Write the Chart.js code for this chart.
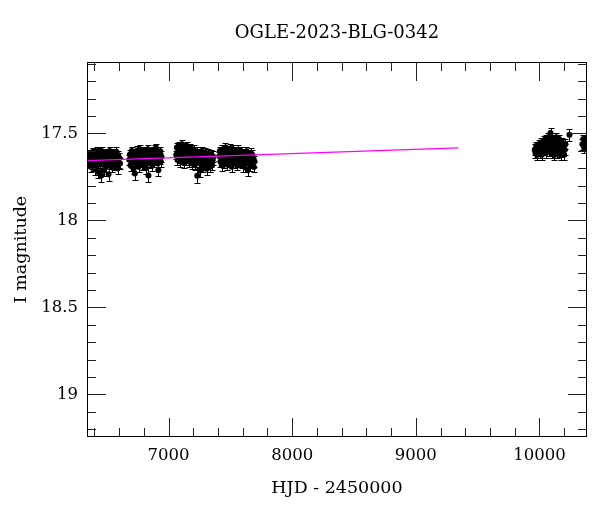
<!DOCTYPE html>
<html>
<head>
<meta charset="utf-8">
<script src="https://cdn.jsdelivr.net/npm/chart.js@4.4.1/dist/chart.umd.min.js"></script>
<style>
  html, body { margin: 0; padding: 0; background: #fff; }
</style>
</head>
<body>
<canvas id="lightCurve" width="600" height="512"></canvas>
<script>
const chartTitle = "OGLE-2023-BLG-0342";
const xLabel = "HJD - 2450000";
const yLabel = "I magnitude";
const xMajorTicks = [7000, 8000, 9000, 10000];
const yMajorTicks = [17.5, 18, 18.5, 19];

// OGLE photometry: HJD - 2450000, I mag, error
const hjd = [
  // 2013
  6352, 6358, 6363, 6368, 6372, 6377, 6381, 6386, 6390, 6395, 6399, 6404, 6408, 6412,
  6417, 6421, 6425, 6430, 6434, 6438, 6443, 6447, 6451, 6456, 6460, 6464, 6469, 6473,
  6477, 6482, 6486, 6491, 6495, 6500, 6504, 6509, 6514, 6518, 6523, 6528, 6532, 6537,
  6542, 6547, 6552, 6557, 6562, 6567, 6572, 6577, 6582, 6587, 6592, 6597, 6602, 6607,
  // 2014
  6682, 6687, 6692, 6697, 6702, 6707, 6712, 6717, 6722, 6727, 6732, 6737, 6742, 6747,
  6752, 6757, 6762, 6767, 6772, 6777, 6782, 6787, 6792, 6797, 6802, 6807, 6812, 6817,
  6822, 6827, 6832, 6837, 6842, 6847, 6852, 6857, 6862, 6867, 6872, 6877, 6882, 6887,
  6892, 6897, 6902, 6907, 6912, 6917, 6922, 6927, 6932, 6937, 6942,
  // 2015
  7062, 7067, 7072, 7077, 7082, 7087, 7092, 7097, 7102, 7107, 7112, 7117, 7122, 7127,
  7132, 7137, 7142, 7147, 7152, 7157, 7162, 7167, 7172, 7177, 7182, 7187, 7192, 7197,
  7202, 7207, 7212, 7217, 7222, 7227, 7232, 7237, 7242, 7247, 7252, 7257, 7262, 7267,
  7272, 7277, 7282, 7287, 7292, 7297, 7302, 7307, 7312, 7317, 7322, 7327, 7332, 7337,
  7342, 7347, 7352, 7357, 7362,
  // 2016
  7410, 7415, 7420, 7425, 7430, 7435, 7440, 7445, 7450, 7455, 7460, 7465, 7470, 7475,
  7480, 7485, 7490, 7495, 7500, 7505, 7510, 7515, 7520, 7525, 7530, 7535, 7540, 7545,
  7550, 7555, 7560, 7565, 7570, 7575, 7580, 7585, 7590, 7595, 7600, 7605, 7610, 7615,
  7620, 7625, 7630, 7635, 7640, 7645, 7650, 7655, 7660, 7665, 7670, 7675, 7680, 7685,
  7690, 7695,
  // 2023
  9962, 9968, 9974, 9980, 9986, 9992, 9998, 10004, 10010, 10015, 10020, 10025, 10030, 10035,
  10040, 10045, 10050, 10055, 10060, 10065, 10070, 10075, 10080, 10085, 10090, 10095, 10100, 10105,
  10110, 10115, 10120, 10125, 10130, 10135, 10140, 10145, 10150, 10155, 10160, 10165, 10170, 10175,
  10180, 10185, 10190, 10195, 10200, 10205, 10210, 10243,
  // 2024
  10348, 10355, 10362, 10368, 10374, 10380
];

const mag = [
  17.645, 17.672, 17.618, 17.663, 17.694, 17.631, 17.652, 17.607, 17.684, 17.641, 17.668, 17.705, 17.624, 17.653,
  17.603, 17.671, 17.636, 17.722, 17.659, 17.612, 17.646, 17.681, 17.627, 17.742, 17.655, 17.604, 17.674, 17.633,
  17.712, 17.662, 17.619, 17.648, 17.692, 17.614, 17.663, 17.637, 17.735, 17.651, 17.602, 17.676, 17.643, 17.621,
  17.694, 17.658, 17.613, 17.647, 17.683, 17.628, 17.664, 17.606, 17.652, 17.702, 17.624, 17.667, 17.641, 17.673,

  17.652, 17.621, 17.684, 17.643, 17.602, 17.667, 17.631, 17.703, 17.614, 17.731, 17.655, 17.623, 17.672, 17.598,
  17.646, 17.692, 17.618, 17.664, 17.593, 17.641, 17.682, 17.609, 17.654, 17.632, 17.676, 17.603, 17.645, 17.701,
  17.622, 17.663, 17.591, 17.742, 17.634, 17.671, 17.612, 17.653, 17.624, 17.684, 17.601, 17.643, 17.666, 17.594,
  17.632, 17.585, 17.654, 17.613, 17.673, 17.712, 17.621, 17.645, 17.603, 17.662, 17.634,

  17.624, 17.582, 17.653, 17.601, 17.572, 17.633, 17.662, 17.594, 17.612, 17.563, 17.641, 17.604, 17.671, 17.583,
  17.622, 17.654, 17.592, 17.631, 17.574, 17.613, 17.662, 17.603, 17.642, 17.584, 17.621, 17.673, 17.612, 17.651,
  17.593, 17.634, 17.682, 17.622, 17.661, 17.604, 17.743, 17.642, 17.613, 17.671, 17.632, 17.714, 17.654, 17.602,
  17.664, 17.623, 17.692, 17.641, 17.612, 17.663, 17.634, 17.703, 17.652, 17.614, 17.672, 17.631, 17.694, 17.643,
  17.662, 17.623, 17.681, 17.652, 17.634,

  17.632, 17.601, 17.663, 17.622, 17.684, 17.593, 17.641, 17.612, 17.672, 17.634, 17.582, 17.653, 17.621, 17.681,
  17.604, 17.642, 17.613, 17.664, 17.586, 17.631, 17.692, 17.614, 17.652, 17.593, 17.633, 17.671, 17.602, 17.644,
  17.623, 17.682, 17.594, 17.651, 17.612, 17.663, 17.632, 17.604, 17.672, 17.621, 17.643, 17.691, 17.614, 17.652,
  17.631, 17.674, 17.603, 17.642, 17.712, 17.624, 17.661, 17.633, 17.684, 17.612, 17.653, 17.622, 17.672, 17.641,
  17.693, 17.662,

  17.594, 17.612, 17.573, 17.624, 17.582, 17.603, 17.562, 17.614, 17.553, 17.592, 17.623, 17.564, 17.583, 17.542,
  17.601, 17.572, 17.533, 17.613, 17.552, 17.584, 17.523, 17.602, 17.544, 17.573, 17.498, 17.553, 17.614, 17.532,
  17.582, 17.563, 17.624, 17.541, 17.593, 17.522, 17.574, 17.612, 17.551, 17.583, 17.532, 17.604, 17.562, 17.626,
  17.584, 17.553, 17.603, 17.572, 17.623, 17.594, 17.562, 17.508,

  17.563, 17.532, 17.584, 17.551, 17.574, 17.543
];

const magErr = [
  .025, .030, .025, .030, .030, .025, .030, .025, .030, .025, .030, .035, .025, .030,
  .025, .030, .025, .035, .030, .025, .025, .030, .025, .040, .030, .025, .030, .025,
  .035, .030, .025, .025, .030, .025, .030, .025, .040, .030, .025, .030, .025, .025,
  .030, .030, .025, .025, .030, .025, .030, .025, .030, .030, .025, .030, .030, .030,

  .030, .025, .030, .025, .025, .030, .025, .030, .025, .035, .030, .025, .030, .025,
  .025, .030, .025, .030, .025, .025, .030, .025, .030, .025, .030, .025, .025, .030,
  .025, .030, .025, .040, .025, .030, .025, .030, .025, .030, .025, .025, .030, .025,
  .025, .025, .030, .025, .030, .035, .025, .030, .025, .030, .030,

  .025, .025, .030, .025, .025, .025, .030, .025, .025, .025, .030, .025, .030, .025,
  .025, .030, .025, .025, .025, .025, .030, .025, .025, .025, .025, .030, .025, .030,
  .025, .025, .030, .025, .030, .025, .040, .030, .025, .030, .025, .035, .030, .025,
  .030, .025, .030, .025, .025, .030, .025, .035, .030, .025, .030, .025, .030, .030,
  .030, .025, .030, .030, .030,

  .025, .025, .030, .025, .030, .025, .025, .025, .030, .025, .025, .030, .025, .030,
  .025, .025, .025, .030, .025, .025, .030, .025, .030, .025, .025, .030, .025, .025,
  .025, .030, .025, .030, .025, .030, .025, .025, .030, .025, .025, .030, .025, .030,
  .025, .030, .025, .025, .035, .025, .030, .025, .030, .025, .030, .025, .030, .025,
  .030, .030,

  .030, .030, .025, .030, .025, .025, .025, .030, .025, .025, .030, .025, .025, .025,
  .025, .025, .025, .030, .025, .025, .025, .030, .025, .025, .030, .025, .030, .025,
  .025, .025, .030, .025, .025, .025, .025, .030, .025, .025, .025, .030, .025, .030,
  .025, .025, .030, .025, .030, .030, .030, .035,

  .030, .025, .030, .025, .030, .025
];

// baseline model drawn in magenta
const modelHjd = [6340, 9345];
const modelMag = [17.657, 17.583];

const serif = '"DejaVu Serif", "Liberation Serif", serif';

function isMajor(v, majors) {
  return majors.some(m => Math.abs(m - v) < 1e-6);
}

// vertical error bars with caps, under the points
const errorBars = {
  id: 'errorBars',
  beforeDatasetsDraw(chart) {
    const { ctx, chartArea: a, scales: { x, y } } = chart;
    ctx.save();
    ctx.beginPath();
    ctx.rect(a.left, a.top, a.right - a.left, a.bottom - a.top);
    ctx.clip();
    ctx.strokeStyle = '#000';
    ctx.lineWidth = 1;
    ctx.beginPath();
    hjd.forEach((t, i) => {
      const px = Math.round(x.getPixelForValue(t)) + 0.5;
      const y1 = Math.round(y.getPixelForValue(mag[i] - magErr[i])) + 0.5;
      const y2 = Math.round(y.getPixelForValue(mag[i] + magErr[i])) + 0.5;
      ctx.moveTo(px, y1); ctx.lineTo(px, y2);
      ctx.moveTo(px - 3, y1); ctx.lineTo(px + 3, y1);
      ctx.moveTo(px - 3, y2); ctx.lineTo(px + 3, y2);
    });
    ctx.stroke();
    ctx.restore();
  }
};

// box frame with inward ticks on all four sides, plus the title
const frameTicks = {
  id: 'frameTicks',
  afterDraw(chart) {
    const { ctx, chartArea: a, scales: { x, y } } = chart;
    ctx.save();
    ctx.strokeStyle = '#222';
    ctx.lineWidth = 1;
    ctx.beginPath();
    x.ticks.forEach(t => {
      const px = Math.round(x.getPixelForValue(t.value)) + 0.5;
      const len = isMajor(t.value, xMajorTicks) ? 19 : 9;
      ctx.moveTo(px, a.bottom); ctx.lineTo(px, a.bottom - len);
      ctx.moveTo(px, a.top); ctx.lineTo(px, a.top + len);
    });
    y.ticks.forEach(t => {
      const py = Math.round(y.getPixelForValue(t.value)) + 0.5;
      const len = isMajor(t.value, yMajorTicks) ? 19 : 9;
      ctx.moveTo(a.left, py); ctx.lineTo(a.left + len, py);
      ctx.moveTo(a.right, py); ctx.lineTo(a.right - len, py);
    });
    ctx.stroke();
    ctx.strokeStyle = '#000';
    ctx.strokeRect(a.left + 0.5, a.top + 0.5, a.right - a.left - 1, a.bottom - a.top - 1);

    ctx.fillStyle = '#000';
    ctx.font = '18px ' + serif;
    ctx.textAlign = 'center';
    ctx.textBaseline = 'alphabetic';
    ctx.fillText(chartTitle, (a.left + a.right) / 2, 38);
    ctx.restore();
  }
};

const points = hjd.map((t, i) => ({ x: t, y: mag[i] }));
const model = modelHjd.map((t, i) => ({ x: t, y: modelMag[i] }));

new Chart(document.getElementById('lightCurve'), {
  type: 'scatter',
  data: {
    datasets: [
      {
        type: 'line',
        data: model,
        borderColor: '#ff00ff',
        borderWidth: 1.3,
        pointRadius: 0,
        fill: false,
        tension: 0,
        clip: 0
      },
      {
        data: points,
        backgroundColor: '#000',
        borderWidth: 0,
        pointRadius: 3,
        clip: 0
      }
    ]
  },
  options: {
    responsive: false,
    animation: false,
    devicePixelRatio: 1,
    events: [],
    layout: { padding: { top: 62, right: 13, left: 0, bottom: 0 } },
    plugins: {
      legend: { display: false },
      tooltip: { enabled: false },
      title: { display: false }
    },
    scales: {
      x: {
        type: 'linear',
        min: 6340,
        max: 10385,
        grid: { display: false, drawTicks: false },
        border: { display: false },
        ticks: {
          stepSize: 200,
          includeBounds: false,
          autoSkip: false,
          maxRotation: 0,
          minRotation: 0,
          padding: 9,
          color: '#000',
          font: { family: serif, size: 16.5 },
          callback: v => isMajor(v, xMajorTicks) ? String(Math.round(v)) : ''
        },
        title: {
          display: true,
          text: xLabel,
          color: '#000',
          font: { family: serif, size: 17.5 },
          padding: { top: 0, bottom: 13 }
        },
        afterFit: s => { s.height = 75; }
      },
      y: {
        type: 'linear',
        reverse: true,
        min: 17.09,
        max: 19.245,
        grid: { display: false, drawTicks: false },
        border: { display: false },
        ticks: {
          stepSize: 0.1,
          includeBounds: false,
          autoSkip: false,
          padding: 9,
          color: '#000',
          font: { family: serif, size: 16.5 },
          callback: v => isMajor(v, yMajorTicks) ? String(Number(v.toFixed(1))) : ''
        },
        title: {
          display: true,
          text: yLabel,
          color: '#000',
          font: { family: serif, size: 17.5 },
          padding: { top: 11, bottom: 0 }
        },
        afterFit: s => { s.width = 87; }
      }
    }
  },
  plugins: [errorBars, frameTicks]
});
</script>
</body>
</html>
